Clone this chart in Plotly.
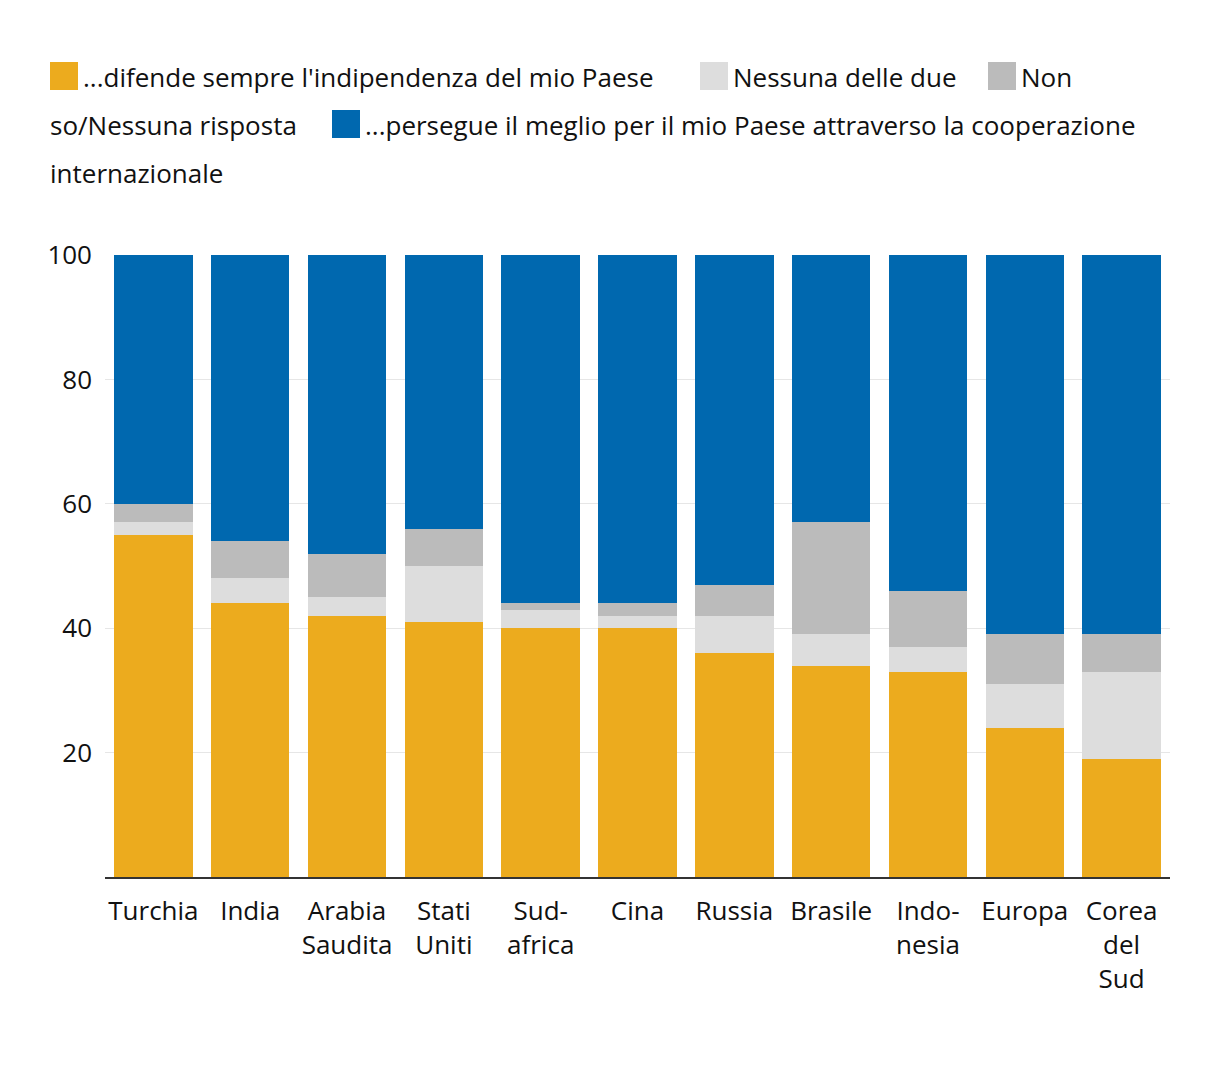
import plotly.graph_objects as go

categories = ["Turchia", "India", "Arabia<br>Saudita", "Stati<br>Uniti", "Sud-<br>africa", "Cina",
              "Russia", "Brasile", "Indo-<br>nesia", "Europa", "Corea<br>del<br>Sud"]

difende = [55, 44, 42, 41, 40, 40, 36, 34, 33, 24, 19]
nessuna = [2, 4, 3, 9, 3, 2, 6, 5, 4, 7, 14]
non_so = [3, 6, 7, 6, 1, 2, 5, 18, 9, 8, 6]
persegue = [40, 46, 48, 44, 56, 56, 53, 43, 54, 61, 61]

series_names = [
    "...difende sempre l'indipendenza del mio Paese",
    "Nessuna delle due",
    "Non so/Nessuna risposta",
    "...persegue il meglio per il mio Paese attraverso la cooperazione internazionale",
]
series_values = [difende, nessuna, non_so, persegue]
colors = ["#ECAB1E", "#DDDDDD", "#BBBBBB", "#0068AF"]

FONT = "Open Sans, Lato, sans-serif"
W, H = 1220, 1066
ML, MR, MT, MB = 105, 50, 255, 189
PW, PH = W - ML - MR, H - MT - MB

fig = go.Figure()
for name, vals, col in zip(series_names, series_values, colors):
    fig.add_trace(go.Bar(x=categories, y=vals, name=name, showlegend=False,
                         marker=dict(color=col, line=dict(width=0)),
                         hovertemplate="%{y}<extra>" + name + "</extra>"))

# Flowing legend (wrapped like the original): (series index, swatch x px, row, words on first line)
legend_layout = [(0, 50, 0, None), (1, 700, 0, None), (2, 988, 0, 1), (3, 332, 1, 10)]
row_y = [76, 124, 172]
SW = 28


def px(x):
    return (x - ML) / PW


def py(y):
    return (H - MB - y) / PH


shapes = []
annotations = []
for idx, sx, row, split in legend_layout:
    cy = row_y[row]
    shapes.append(dict(type="rect", xref="paper", yref="paper", x0=px(sx), x1=px(sx + SW),
                       y0=py(cy + SW / 2), y1=py(cy - SW / 2), fillcolor=colors[idx],
                       line=dict(width=0), layer="above"))
    words = series_names[idx].split(" ")
    first = words if split is None else words[:split]
    annotations.append(dict(xref="paper", yref="paper", x=px(sx + SW + 3), y=py(cy + 1),
                            xanchor="left", yanchor="middle", showarrow=False,
                            text=" ".join(first), font=dict(size=26, color="#111111")))
    if split is not None:
        annotations.append(dict(xref="paper", yref="paper", x=px(48), y=py(row_y[row + 1] + 1),
                                xanchor="left", yanchor="middle", showarrow=False,
                                text=" ".join(words[split:]), font=dict(size=26, color="#111111")))

fig.update_layout(
    barmode="stack",
    bargap=0.19,
    width=W, height=H,
    paper_bgcolor="white", plot_bgcolor="white",
    font=dict(family=FONT, size=26, color="#111111"),
    margin=dict(l=ML, r=MR, t=MT, b=MB),
    showlegend=False,
    shapes=shapes,
    annotations=annotations,
    xaxis=dict(showline=True, linecolor="#333333", linewidth=2, ticks="", tickfont=dict(size=26),
               tickangle=0, showgrid=False, ticklabelstandoff=10),
    yaxis=dict(range=[0, 100], tickvals=[20, 40, 60, 80, 100], showgrid=True, gridcolor="#E6E6E6",
               gridwidth=1, zeroline=False, tickfont=dict(size=26), ticks="", ticklabelstandoff=12),
)

fig.write_html("out.html")
